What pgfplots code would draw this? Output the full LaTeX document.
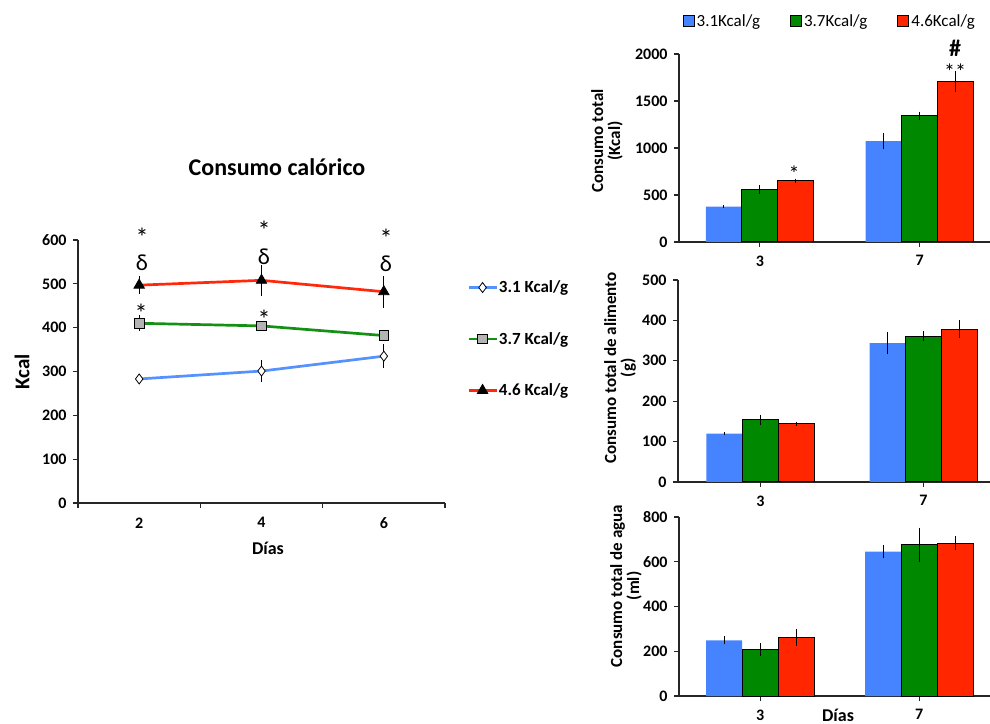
\documentclass[border=0pt]{standalone}
\usepackage{pgfplots}
\pgfplotsset{compat=1.18}
\usepackage{fontspec}
\setmainfont{Carlito}
\definecolor{cblue}{RGB}{70,131,255}
\definecolor{cgreen}{RGB}{0,136,0}
\definecolor{cred}{RGB}{255,38,0}
\definecolor{lblue}{RGB}{85,145,255}
\definecolor{lgreen}{RGB}{20,145,20}
\definecolor{lred}{RGB}{255,40,10}
\definecolor{mgray}{RGB}{180,180,180}
\newcommand{\fs}[1]{\fontsize{#1}{#1}\selectfont}
\begin{document}
\begin{tikzpicture}[x=1pt,y=1pt]
\useasboundingbox (0pt,0pt) rectangle (990pt,723pt);
\pgfplotsset{
  common/.style={scale only axis, clip=false, axis lines*=left,
    axis line style={-, line width=1.1pt, black!85},
    tick align=outside, major tick length=5pt, minor tick length=5pt,
    tick style={black!85, line width=1.1pt},
    tick label style={font=\bfseries\fs{16}},
    /pgf/number format/assume math mode=true,
    /pgf/number format/1000 sep={},
    enlarge x limits=false, enlarge y limits=false},
  barax/.style={common, ybar=0pt, bar width=36pt, xtick={0,1}, xticklabels={3,7},
    xticklabel style={yshift=-5pt}, yticklabel style={xshift=-3pt},
    ymin=0},
  ebar/.style={error bars/.cd, y dir=both, y explicit, error mark=none,
    error bar style={black, line width=1.1pt}},
}
% ---------------- left line chart
\begin{axis}[common, at={(78pt,220pt)}, anchor=south west, width=367pt, height=263pt,
  xmin=1, xmax=7, ymin=0, ymax=600,
  xtick={2,4,6}, minor xtick={1,3,5,7}, ytick={0,100,...,600},
  major x tick style={draw=none},
  xticklabel style={yshift=-6pt}, yticklabel style={xshift=-3pt},
  legend style={at={(1.06,0.6236)}, anchor=west, draw=none, fill=none,
    inner sep=0pt, row sep=36pt, font=\bfseries\fs{17},
    nodes={inner sep=1pt}},
  legend cell align=left,
  legend image code/.code={\draw[mark repeat=2,mark phase=2,#1] plot coordinates {(0pt,0pt) (14pt,0pt) (28pt,0pt)};}]
\addplot[lblue, line width=2.7pt, mark=diamond*, mark size=5pt,
  mark options={fill=white, draw=black, line width=0.8pt}, ebar]
  table[x=x, y=y, y error=e, row sep=\\]{x y e\\ 2 283 5\\ 4 301 25\\ 6 335 27\\};
\addlegendentry{3.1 Kcal/g}
\addplot[lgreen, line width=2.7pt, mark=square*, mark size=4.8pt,
  mark options={fill=mgray, draw=black, line width=0.8pt}, ebar]
  table[x=x, y=y, y error=e, row sep=\\]{x y e\\ 2 410 18\\ 4 404 10\\ 6 382 10\\};
\addlegendentry{3.7 Kcal/g}
\addplot[lred, line width=2.7pt, mark=triangle*, mark size=6pt,
  mark options={fill=black, draw=black, line width=0.8pt}, ebar]
  table[x=x, y=y, y error=e, row sep=\\]{x y e\\ 2 497 20\\ 4 508 35\\ 6 482 37\\};
\addlegendentry{4.6 Kcal/g}
\end{axis}
% ---------------- top right bars
\begin{axis}[barax, at={(679pt,481pt)}, anchor=south west, width=311pt, height=188pt,
  xmin=-0.506, xmax=1.44, ymax=2000, ytick={0,500,...,2000},
  legend columns=3,
  legend style={at={(0.013,1.175)}, anchor=west, draw=none, fill=none, inner sep=0pt,
    font=\fs{17}, /tikz/every even column/.append style={column sep=28pt}},
  legend image code/.code={\draw[#1] (0pt,-5.5pt) rectangle (11pt,5.5pt);}]
\addplot[fill=cblue, draw=none, ebar]
  table[x=x, y=y, y error=e, row sep=\\]{x y e\\ 0 376 15\\ 1 1074 89\\};
\addlegendentry{3.1Kcal/g}
\addplot[fill=cgreen, draw=black, line width=1pt, ebar]
  table[x=x, y=y, y error=e, row sep=\\]{x y e\\ 0 560 48\\ 1 1344 44\\};
\addlegendentry{3.7Kcal/g}
\addplot[fill=cred, draw=black, line width=1pt, ebar]
  table[x=x, y=y, y error=e, row sep=\\]{x y e\\ 0 649 25\\ 1 1706 110\\};
\addlegendentry{4.6Kcal/g}
\end{axis}
% ---------------- middle right bars
\begin{axis}[barax, at={(678pt,241pt)}, anchor=south west, width=312pt, height=202pt,
  xmin=-0.506, xmax=1.408, ymax=500, ytick={0,100,...,500}]
\addplot[fill=cblue, draw=none, ebar]
  table[x=x, y=y, y error=e, row sep=\\]{x y e\\ 0 120 3\\ 1 344 28\\};
\addplot[fill=cgreen, draw=black, line width=1pt, ebar]
  table[x=x, y=y, y error=e, row sep=\\]{x y e\\ 0 154 13\\ 1 361 13\\};
\addplot[fill=cred, draw=black, line width=1pt, ebar]
  table[x=x, y=y, y error=e, row sep=\\]{x y e\\ 0 144 5\\ 1 378 22\\};
\end{axis}
% ---------------- bottom right bars
\begin{axis}[barax, at={(679pt,27pt)}, anchor=south west, width=311pt, height=179pt,
  xmin=-0.51, xmax=1.446, ymax=800, ytick={0,200,...,800}]
\addplot[fill=cblue, draw=none, ebar]
  table[x=x, y=y, y error=e, row sep=\\]{x y e\\ 0 249 18\\ 1 645 30\\};
\addplot[fill=cgreen, draw=black, line width=1pt, ebar]
  table[x=x, y=y, y error=e, row sep=\\]{x y e\\ 0 207 30\\ 1 675 78\\};
\addplot[fill=cred, draw=black, line width=1pt, ebar]
  table[x=x, y=y, y error=e, row sep=\\]{x y e\\ 0 262 39\\ 1 683 30\\};
\end{axis}
% ---------------- texts
\node[font=\bfseries\fs{24}] at (277pt,556pt) {Consumo calórico};
\node[font=\bfseries\fs{21}, rotate=90] at (22pt,351pt) {Kcal};
\node[font=\bfseries\fs{18}] at (268pt,175pt) {Días};
\node[font=\bfseries\fs{18}] at (838pt,8pt) {Días};
\node[font=\bfseries\fs{17}, rotate=90, align=center] at (607pt,582pt) {Consumo total\\(Kcal)};
\node[font=\bfseries\fs{17}, rotate=90, align=center] at (620pt,355pt) {Consumo total de alimento\\(g)};
\node[font=\bfseries\fs{17}, rotate=90, align=center] at (626pt,137pt) {Consumo total de agua\\(ml)};
% annotations left
\node[font=\fs{26}] at (142pt,486pt) {*};
\node[font=\fs{26}] at (264pt,493pt) {*};
\node[font=\fs{26}] at (386pt,485pt) {*};
\node[font=\fs{23}] at (142pt,460pt) {δ};
\node[font=\fs{23}] at (264pt,466pt) {δ};
\node[font=\fs{23}] at (386pt,459pt) {δ};
\node[font=\fs{26}] at (141pt,410pt) {*};
\node[font=\fs{26}] at (264pt,404pt) {*};
% annotations right
\node[font=\fs{22}] at (794pt,549pt) {*};
\node[font=\fs{22}] at (955pt,651pt) {**};
\node[font=\bfseries\fs{24}] at (955pt,675pt) {\#};
\end{tikzpicture}
\end{document}
